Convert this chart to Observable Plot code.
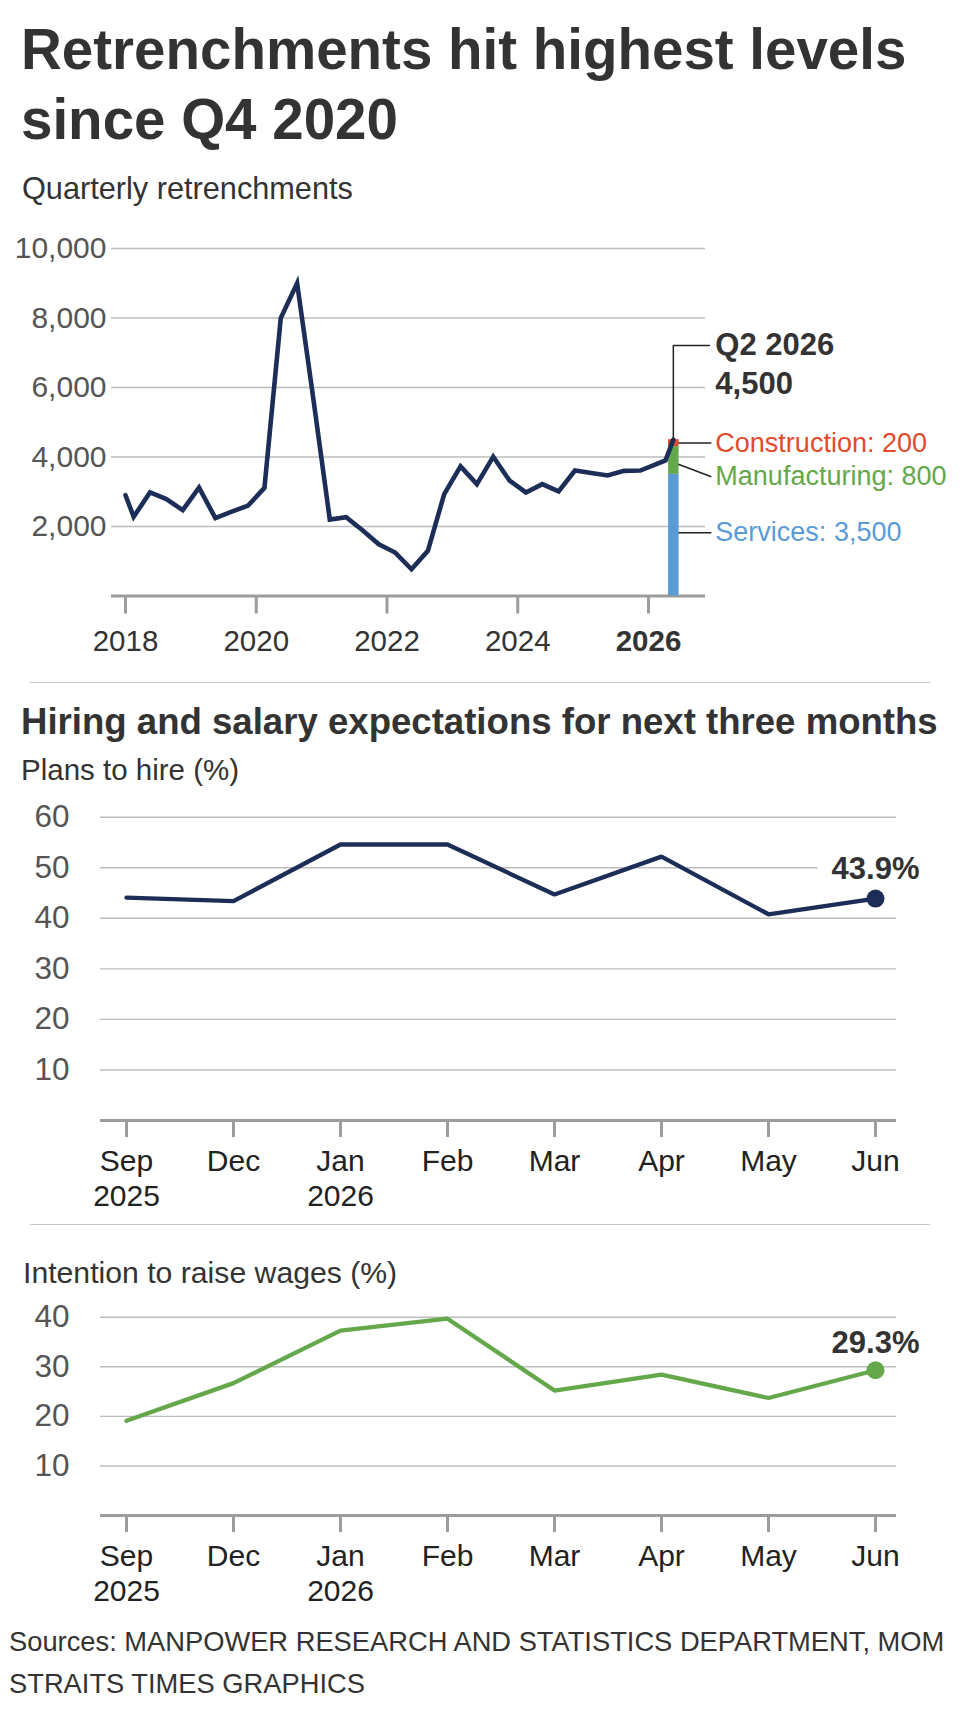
<!DOCTYPE html>
<html><head><meta charset="utf-8">
<script src="https://cdn.jsdelivr.net/npm/d3@7"></script>
<script src="https://cdn.jsdelivr.net/npm/@observablehq/plot@0.6"></script>
<style>
body{margin:0;background:#fff;}
#page{position:relative;width:960px;height:1722px;overflow:hidden;font-family:"Liberation Sans",Arial,sans-serif;color:#333;}
.t{position:absolute;white-space:nowrap;line-height:1;}
.chart{position:absolute;left:0;}
.chart svg{overflow:visible;background:transparent;}
.rule{position:absolute;left:30px;width:900px;height:0;border-top:1.5px solid #c6c6c6;}
</style></head><body><div id="page"></div>
<script>
// ---------- DATA ----------
// quarterly retrenchments (position in decimal years, value)
const quarterPos = [2018.0, 2018.125, 2018.375, 2018.625, 2018.875, 2019.125, 2019.375, 2019.625, 2019.875,
  2020.125, 2020.375, 2020.625, 2020.875, 2021.125, 2021.375, 2021.625, 2021.875,
  2022.125, 2022.375, 2022.625, 2022.875, 2023.125, 2023.375, 2023.625, 2023.875,
  2024.125, 2024.375, 2024.625, 2024.875, 2025.125, 2025.375, 2025.625, 2025.875, 2026.26, 2026.38];
const retrenchments = [2900, 2280, 2980, 2790, 2470, 3120, 2240, 2430, 2600,
  3110, 8000, 9000, 5650, 2200, 2270, 1890, 1490,
  1250, 770, 1300, 2930, 3730, 3220, 4010, 3320,
  2980, 3220, 3010, 3610, 3540, 3470, 3600, 3610, 3900, 4500];
const latestLabel = "Q2 2026";
const latestPos = 2026.38;
const latestTotal = 4500;
const sectors = ["Services", "Manufacturing", "Construction"];
const sectorValues = [3500, 800, 200];
const yearTicks = [2018, 2020, 2022, 2024];
const boldYearTicks = [2026];
const retTicks = [2000, 4000, 6000, 8000, 10000];

const months = ["Sep\n2025", "Dec", "Jan\n2026", "Feb", "Mar", "Apr", "May", "Jun"];
const hirePlans = [44.1, 43.4, 54.6, 54.6, 44.7, 52.2, 40.8, 43.9];
const wageRaise = [19.1, 26.7, 37.3, 39.7, 25.2, 28.4, 23.7, 29.3];
const hireTicks = [10, 20, 30, 40, 50, 60];
const wageTicks = [10, 20, 30, 40];

// ---------- STYLE / LAYOUT ----------
const FONT = "'Liberation Sans', Arial, sans-serif";
const sectorColors = ["#5b9bd5", "#64a84b", "#e14b2c"];
const sectorLabelY = [1820, 3430, 4400];   // label anchors (value units)
const sectorLeaderStart = [1820, 3790, 4400];
const NAVY = "#1c2e57", GREEN = "#64a84b", GRID = "#bdbdbd", AXIS = "#9c9c9c";

const page = document.getElementById("page");
function addText(str, x, baseline, size, weight, color) {
  const d = document.createElement("div");
  d.className = "t";
  d.textContent = str;
  d.style.left = x + "px";
  d.style.top = (baseline - 0.8465 * size) + "px";
  d.style.fontSize = size + "px";
  d.style.fontWeight = weight;
  d.style.color = color;
  page.appendChild(d);
}
function addRule(y) {
  const d = document.createElement("div");
  d.className = "rule";
  d.style.top = y + "px";
  page.appendChild(d);
}
function addChart(svg, top) {
  const d = document.createElement("div");
  d.className = "chart";
  d.style.top = top + "px";
  d.appendChild(svg);
  page.appendChild(d);
}

addText("Retrenchments hit highest levels", 21, 70, 56.5, 700, "#333");
addText("since Q4 2020", 21, 140, 56.5, 700, "#333");
addText("Quarterly retrenchments", 22, 200, 30.7, 400, "#333");

// ---------- CHART 1 ----------
const xRange = [125, 648];
const xr = d3.scaleLinear().domain([2018, 2026]).range(xRange);
const off = px => xr.invert(xr(latestPos) + px);

const retData = quarterPos.map((t, i) => ({t, v: retrenchments[i]}));
const segs = sectors.map((s, i) => ({
  sector: s, value: sectorValues[i],
  y1: d3.sum(sectorValues.slice(0, i)), y2: d3.sum(sectorValues.slice(0, i + 1)),
  color: sectorColors[i],
  label: `${s}: ${d3.format(",")(sectorValues[i])}`,
  ly: sectorLabelY[i], ls: sectorLeaderStart[i]
}));
const calloutY1 = 7210, calloutY2 = 6100;

const chart1 = Plot.plot({
  width: 960, height: 470,
  marginLeft: 111, marginRight: 255, marginTop: 38, marginBottom: 84.5,
  style: {fontFamily: FONT, background: "transparent", overflow: "visible"},
  x: {domain: [2018, 2026], range: xRange, label: null},
  y: {domain: [0, 10000], label: null},
  marks: [
    Plot.gridY(retTicks, {stroke: GRID, strokeOpacity: 1, strokeWidth: 1.4}),
    Plot.axisY(retTicks, {tickSize: 0, tickPadding: 5, fontSize: 30, fill: "#555", tickFormat: d3.format(","), label: null}),
    Plot.ruleY([0], {stroke: AXIS, strokeWidth: 3}),
    Plot.axisX(yearTicks, {tickSize: 18, tickPadding: 16, fontSize: 29.5, fill: "#333", stroke: AXIS, strokeWidth: 3, tickFormat: d => String(d), label: null}),
    Plot.axisX(boldYearTicks, {tickSize: 18, tickPadding: 16, fontSize: 29.5, fontWeight: "bold", fill: "#333", stroke: AXIS, strokeWidth: 3, tickFormat: d => String(d), label: null}),
    Plot.ruleX(segs, {x: () => latestPos, y1: "y1", y2: "y2", stroke: "color", strokeWidth: 10.5}),
    Plot.line(retData, {x: "t", y: "v", stroke: NAVY, strokeWidth: 4.6, strokeLinejoin: "miter", strokeMiterlimit: 6}),
    Plot.line([[latestPos, latestTotal], [latestPos, calloutY1], [off(36), calloutY1]], {stroke: "#222", strokeWidth: 1.5}),
    Plot.link(segs, {x1: () => off(5), y1: "ls", x2: () => off(38), y2: "ly", stroke: "#222", strokeWidth: 1.5}),
    Plot.text([latestLabel], {x: () => latestPos, y: () => calloutY1, dx: 42, textAnchor: "start", lineAnchor: "middle", fontSize: 31, fontWeight: "bold", fill: "#333"}),
    Plot.text([latestTotal], {x: () => latestPos, y: () => calloutY2, text: d => d3.format(",")(d), dx: 42, textAnchor: "start", lineAnchor: "middle", fontSize: 31, fontWeight: "bold", fill: "#333"}),
    Plot.text(segs, {x: () => latestPos, y: "ly", text: "label", dx: 42, textAnchor: "start", lineAnchor: "middle", fontSize: 27, fill: "color"})
  ]
});
addChart(chart1, 210);

addRule(682);
addText("Hiring and salary expectations for next three months", 21, 735, 36.6, 700, "#333");
addText("Plans to hire (%)", 21, 780, 29.5, 400, "#333");

// ---------- CHART 2 & 3 ----------
function monthChart(values, ticks, color, height, mTop, mBottom, labelDy, halo) {
  const data = months.map((m, i) => ({m, v: values[i]}));
  const last = data[data.length - 1];
  return Plot.plot({
    width: 960, height,
    marginLeft: 100, marginRight: 64, marginTop: mTop, marginBottom: mBottom,
    style: {fontFamily: FONT, background: "transparent", overflow: "visible"},
    x: {type: "point", domain: months, range: [124.7, 876], padding: 0, label: null},
    y: {domain: [0, d3.max(ticks)], label: null},
    marks: [
      Plot.gridY(ticks, {stroke: GRID, strokeOpacity: 1, strokeWidth: 1.4}),
      Plot.axisY(ticks, {tickSize: 0, tickPadding: 31, fontSize: 31.5, fill: "#555", label: null}),
      Plot.ruleY([0], {stroke: AXIS, strokeWidth: 3}),
      Plot.axisX(months, {tickSize: 17, tickPadding: 8.4, fontSize: 30, lineHeight: 1.167, fill: "#222", stroke: AXIS, strokeWidth: 3, label: null}),
      Plot.text([last], {x: "m", y: "v", text: d => d.v.toFixed(1) + "%", dy: labelDy, lineAnchor: "bottom", fontSize: 31, fontWeight: "bold", fill: "#333",
        stroke: halo ? "white" : null, strokeWidth: halo ? 29 : 0, strokeLinejoin: "miter"}),
      Plot.line(data, {x: "m", y: "v", stroke: color, strokeWidth: 4.3, strokeLinejoin: "miter"}),
      Plot.dot([last], {x: "m", y: "v", r: 9, fill: color})
    ]
  });
}
addChart(monthChart(hirePlans, hireTicks, NAVY, 424, 26.7, 94, -20, true), 790);

addRule(1224);
addText("Intention to raise wages (%)", 23, 1283.3, 30.2, 400, "#333");
addChart(monthChart(wageRaise, wageTicks, GREEN, 330, 26.7, 105, -17, false), 1290);

addText("Sources: MANPOWER RESEARCH AND STATISTICS DEPARTMENT, MOM", 9, 1651, 27.3, 400, "#333");
addText("STRAITS TIMES GRAPHICS", 9, 1693, 27.3, 400, "#333");
</script></body></html>
